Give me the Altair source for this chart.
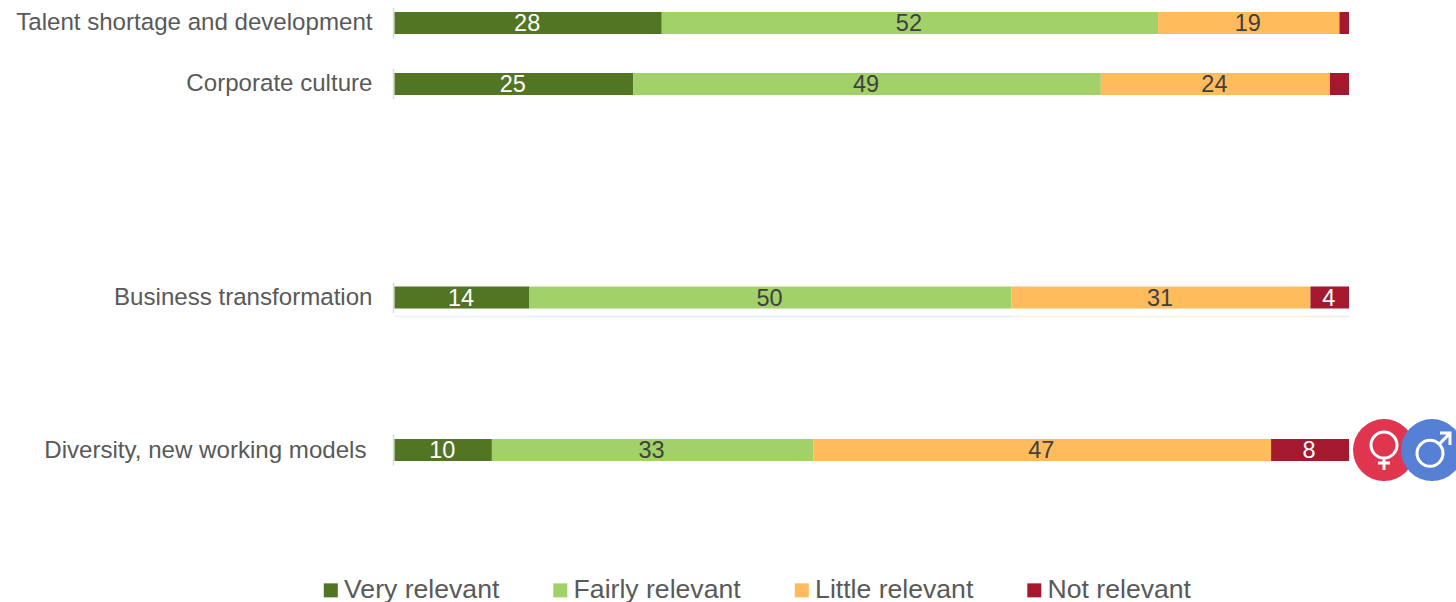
import altair as alt
import pandas as pd

# Survey answers per topic; rows are not evenly spaced, so each topic has a row number.
topics = [
    "Talent shortage and development",
    "Corporate culture",
    "Business transformation",
    "Diversity, new working models",
]
rows = [0, 2, 9, 14]
levels = ["Very relevant", "Fairly relevant", "Little relevant", "Not relevant"]
colors = ["#527524", "#A1D168", "#FFBB5C", "#A5192E"]
very = [28, 25, 14, 10]
fairly = [52, 49, 50, 33]
little = [19, 24, 31, 47]
not_rel = [1, 2, 4, 8]

records = []
for i, topic in enumerate(topics):
    answers = [very[i], fairly[i], little[i], not_rel[i]]
    total = sum(answers)
    start = 0
    for order, (level, value) in enumerate(zip(levels, answers)):
        records.append({
            "topic": topic, "row": rows[i], "level": level, "order": order, "value": value,
            "start": start / total, "end": (start + value) / total,
            "mid": (start + value / 2) / total,
        })
        start += value
table = pd.DataFrame(records)
axis_rows = pd.DataFrame({"topic": topics, "row": rows})
axis_rows["top"] = axis_rows["row"] - 0.5
axis_rows["bottom"] = axis_rows["row"] + 0.5

x_scale = alt.Scale(domain=[0, 1], nice=False, zero=False, padding=0)
y_scale = alt.Scale(domain=[-0.754, 18.98], nice=False, zero=False, reverse=True, padding=0)
x = alt.X("start:Q", scale=x_scale, axis=None)
y = alt.Y("row:Q", scale=y_scale, axis=None)

bars = alt.Chart(table).mark_bar(size=22, orient="horizontal").encode(
    x=x,
    x2="end:Q",
    y=y,
    color=alt.Color(
        "level:N",
        scale=alt.Scale(domain=levels, range=colors),
        sort=levels,
        legend=alt.Legend(
            title=None, orient="none", legendX=-77, legendY=577, direction="horizontal",
            columns=4, columnPadding=47.5, symbolType="square", symbolSize=196,
            symbolStrokeWidth=0, labelFont="Liberation Sans", labelFontSize=26.6,
            labelColor="#595959", labelOffset=0, labelLimit=300, padding=0,
        ),
    ),
)

# Thin tinted strip below the business transformation bar
strip = alt.Chart(table[table["row"] == 9]).mark_bar(
    size=1.5, orient="horizontal", opacity=0.15, yOffset=19
).encode(x=x, x2="end:Q", y=y, color=alt.Color("level:N", legend=None))

values = alt.Chart(table[table["value"] >= 3]).mark_text(
    font="Liberation Sans", fontSize=23.5, baseline="middle", dy=1, dx=-1
).encode(
    x=alt.X("mid:Q", scale=x_scale, axis=None),
    y=y,
    text=alt.Text("value:Q"),
    color=alt.condition(
        "datum.order == 0 || datum.order == 3", alt.value("white"), alt.value("#404040")
    ),
)

axis_line = alt.Chart(axis_rows).mark_rule(color="#D9D9D9", strokeWidth=1.5).encode(
    x=alt.value(-1),
    y=alt.Y("top:Q", scale=y_scale, axis=None),
    y2="bottom:Q",
)

# The diversity label sits a little further left than the others
label_style = dict(
    font="Liberation Sans", fontSize=24.1, align="right", baseline="middle", color="#595959"
)
topic_labels = alt.Chart(axis_rows[axis_rows["row"] != 14]).mark_text(**label_style).encode(
    x=alt.value(-22), y=y, text="topic:N"
)
diversity_label = alt.Chart(axis_rows[axis_rows["row"] == 14]).mark_text(dy=1, **label_style).encode(
    x=alt.value(-28), y=y, text="topic:N"
)

# Gender badges beside the diversity row: a filled disc with a stroked icon path on top
badge_row = pd.DataFrame({"row": [14]})
female_path = (
    "M-0.52,-0.2A0.52,0.52 0 1,1 0.52,-0.2A0.52,0.52 0 1,1 -0.52,-0.2Z"
    "M0,0.32L0,0.8M-0.24,0.52L0.24,0.52"
)
male_path = (
    "M-0.6,0.13A0.52,0.52 0 1,1 0.44,0.13A0.52,0.52 0 1,1 -0.6,0.13Z"
    "M0.29,-0.24L0.72,-0.68M0.32,-0.68L0.72,-0.68L0.72,-0.2"
)
female_badge = alt.Chart(badge_row).mark_circle(size=3844, opacity=1, color="#E0354F").encode(
    x=alt.value(989.5), y=y
)
male_badge = alt.Chart(badge_row).mark_circle(size=3844, opacity=1, color="#5580D6").encode(
    x=alt.value(1037.5), y=y
)
icon_style = dict(filled=False, size=2500, stroke="white", strokeWidth=3, opacity=1)
female_icon = alt.Chart(badge_row).mark_point(shape=female_path, **icon_style).encode(
    x=alt.value(989.5), y=y
)
male_icon = alt.Chart(badge_row).mark_point(shape=male_path, **icon_style).encode(
    x=alt.value(1037.5), y=y
)

chart = alt.layer(
    axis_line, bars, strip, values, topic_labels, diversity_label,
    female_badge, female_icon, male_badge, male_icon,
).resolve_scale(color="independent").properties(
    width=954.5,
    height=602,
    background="white",
    padding={"left": 394.5, "top": 0, "right": 107, "bottom": 0},
    autosize=alt.AutoSizeParams(type="none"),
).configure_view(stroke=None)

chart.save("out.html", embed_options={"renderer": "svg", "actions": False})
